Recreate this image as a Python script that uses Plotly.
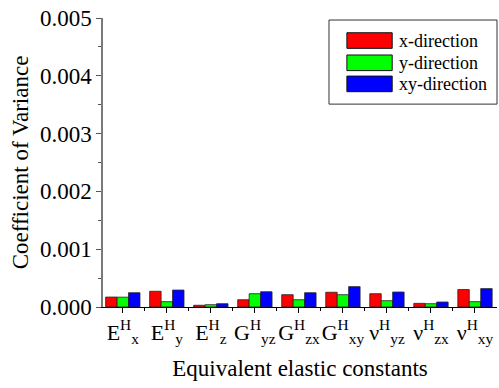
import plotly.graph_objects as go

categories = ["E<sup>H</sup><sub>x</sub>", "E<sup>H</sup><sub>y</sub>", "E<sup>H</sup><sub>z</sub>",
              "G<sup>H</sup><sub>yz</sub>", "G<sup>H</sup><sub>zx</sub>", "G<sup>H</sup><sub>xy</sub>",
              "ν<sup>H</sup><sub>yz</sub>", "ν<sup>H</sup><sub>zx</sub>", "ν<sup>H</sup><sub>xy</sub>"]
series_names = ["x-direction", "y-direction", "xy-direction"]
x_dir = [0.000172, 0.000272, 0.000030, 0.000126, 0.000213, 0.000255, 0.000230, 0.000063, 0.000302]
y_dir = [0.000170, 0.000092, 0.000040, 0.000230, 0.000126, 0.000213, 0.000109, 0.000057, 0.000092]
xy_dir = [0.000247, 0.000293, 0.000057, 0.000264, 0.000247, 0.000352, 0.000259, 0.000086, 0.000318]
y_ticks = [0.000, 0.001, 0.002, 0.003, 0.004, 0.005]

colors = ["#ff0000", "#00ff00", "#0000ff"]
values = [x_dir, y_dir, xy_dir]
xpos = list(range(len(categories)))
FONT = "Liberation Serif"

fig = go.Figure()
for name, vals, c in zip(series_names, values, colors):
    fig.add_trace(go.Bar(x=xpos, y=vals, name=name, marker=dict(color=c, line=dict(color="#222222", width=0.8)),
                         showlegend=False))

fig.update_layout(
    width=499, height=388,
    margin=dict(l=103, r=2, t=18, b=81),
    paper_bgcolor="white", plot_bgcolor="white",
    barmode="group", bargap=0.22, bargroupgap=0,
    font=dict(family=FONT, size=22, color="black"),
    xaxis=dict(range=[-0.45, 8.5], tickmode="array", tickvals=xpos, ticktext=categories, tickangle=0,
               showline=True, linecolor="black", linewidth=1.2, ticks="outside", ticklen=5,
               tickcolor="black", tickfont=dict(size=22, family=FONT), showgrid=False, zeroline=False,
               minor=dict(tickmode="array", tickvals=[i + 0.5 for i in xpos[:-1]], ticks="outside",
                          ticklen=3, tickcolor="black"),
               title=dict(text="Equivalent elastic constants", font=dict(size=23, family=FONT), standoff=13)),
    yaxis=dict(range=[0, 0.005], tickmode="array", tickvals=y_ticks, tickformat=".3f",
               showline=True, linecolor="#7a7a7a", linewidth=1.5, ticks="outside", ticklen=5,
               tickcolor="#555555", tickfont=dict(size=23, family=FONT), showgrid=False, zeroline=False,
               minor=dict(dtick=0.0005, ticks="outside", ticklen=3, tickcolor="#555555"),
               title=dict(text="Coefficient of Variance", font=dict(size=23, family=FONT), standoff=5)),
)

# custom legend box (paper coordinates)
fig.add_shape(type="rect", xref="paper", yref="paper", x0=0.5736, x1=1.0, y0=0.702, y1=0.993,
              line=dict(color="#333333", width=1), fillcolor="white", layer="above")
row_y = [0.922, 0.845, 0.772]
for name, c, yc in zip(series_names, colors, row_y):
    fig.add_shape(type="rect", xref="paper", yref="paper", x0=0.619, x1=0.734, y0=yc - 0.027, y1=yc + 0.027,
                  line=dict(color="#111111", width=1), fillcolor=c, layer="above")
    fig.add_annotation(xref="paper", yref="paper", x=0.745, y=yc, text=name, showarrow=False,
                       xanchor="left", yanchor="middle", font=dict(size=18, family=FONT))

fig.write_html("out.html", config={"displayModeBar": False},
               post_script="document.body.style.margin='0';document.body.style.padding='0';")
